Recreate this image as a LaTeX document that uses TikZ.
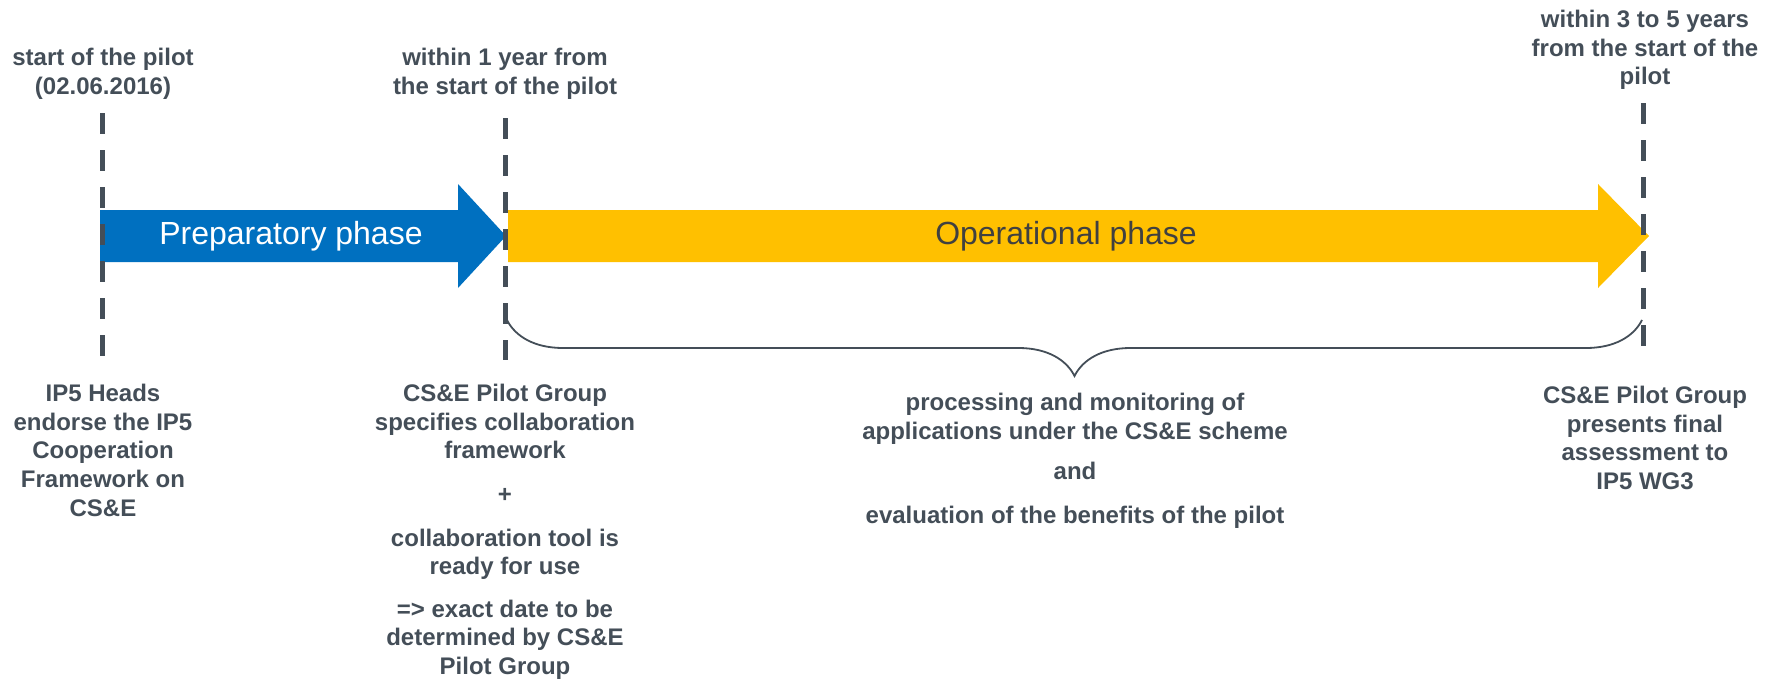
\documentclass[tikz,border=0pt]{standalone}
\usepackage{fontspec}
\setmainfont{Liberation Sans}
\usetikzlibrary{decorations.pathreplacing}

\definecolor{slate}{RGB}{68,78,88}
\definecolor{prepblue}{RGB}{0,112,192}
\definecolor{opyellow}{RGB}{255,192,0}
\definecolor{optext}{RGB}{64,64,64}

\begin{document}
\begin{tikzpicture}[x=0.5pt, y=-0.5pt]
		\tikzstyle {milestone} = [draw=slate, line width=2.5pt, dash pattern=on 10.5pt off 8pt]
		\tikzstyle {note} = [text=slate, font=\bfseries\fontsize{12}{14.3}\selectfont, align=center, inner sep=0pt, anchor=north]
		\tikzstyle {phase} = [font=\fontsize{16}{19}\selectfont, inner sep=0pt]

		\useasboundingbox (0,0) rectangle (1773,680);

		% phase arrows
		\fill[prepblue] (100,210) -- (458,210) -- (458,184) -- (506,236) -- (458,288) -- (458,262) -- (100,262) -- cycle;
		\fill[opyellow] (508,210) -- (1598,210) -- (1598,184) -- (1649,236) -- (1598,288) -- (1598,262) -- (508,262) -- cycle;
		\node[phase, text=white] (prep) at (291,236) {Preparatory phase};
		\node[phase, text=optext] (oper) at (1066,236) {Operational phase};

		% milestone lines
		\coordinate (start top) at (102,113);
		\coordinate (start bottom) at (102,360);
		\coordinate (year top) at (505,118);
		\coordinate (year bottom) at (505,360);
		\coordinate (final top) at (1643,103);
		\coordinate (final bottom) at (1643,360);
		\draw[milestone] (start top) -- (start bottom);
		\draw[milestone] (year top) -- (year bottom);
		\draw[milestone] (final top) -- (final bottom);

		% brace under the operational phase
		\coordinate (brace left) at (507,320);
		\coordinate (brace right) at (1642,320);
		\draw[slate, line width=0.9pt, decorate, decoration={brace, mirror, amplitude=28pt}] (brace left) -- (brace right);

		\node[note] (pilot start) at (103,48) {start of the pilot\\(02.06.2016)};
		\node[note] (one year) at (505,48) {within 1 year from\\the start of the pilot};
		\node[note] (five years) at (1645,10) {within 3 to 5 years\\from the start of the\\pilot};

		\node[note] (endorse) at (103,384) {IP5 Heads\\endorse the IP5\\Cooperation\\Framework on\\CS\&E};
		\node[note] (specify) at (505,384) {CS\&E Pilot Group\\specifies collaboration\\framework\\[7.5pt] +\\[7.5pt] collaboration tool is\\ready for use\\[7pt] => exact date to be\\determined by CS\&E\\Pilot Group};
		\node[note] (monitor) at (1075,393) {processing and monitoring of\\applications under the CS\&E scheme\\[6pt] and\\[7.5pt] evaluation of the benefits of the pilot};
		\node[note] (assess) at (1645,386) {CS\&E Pilot Group\\presents final\\assessment to\\IP5 WG3};
\end{tikzpicture}
\end{document}
